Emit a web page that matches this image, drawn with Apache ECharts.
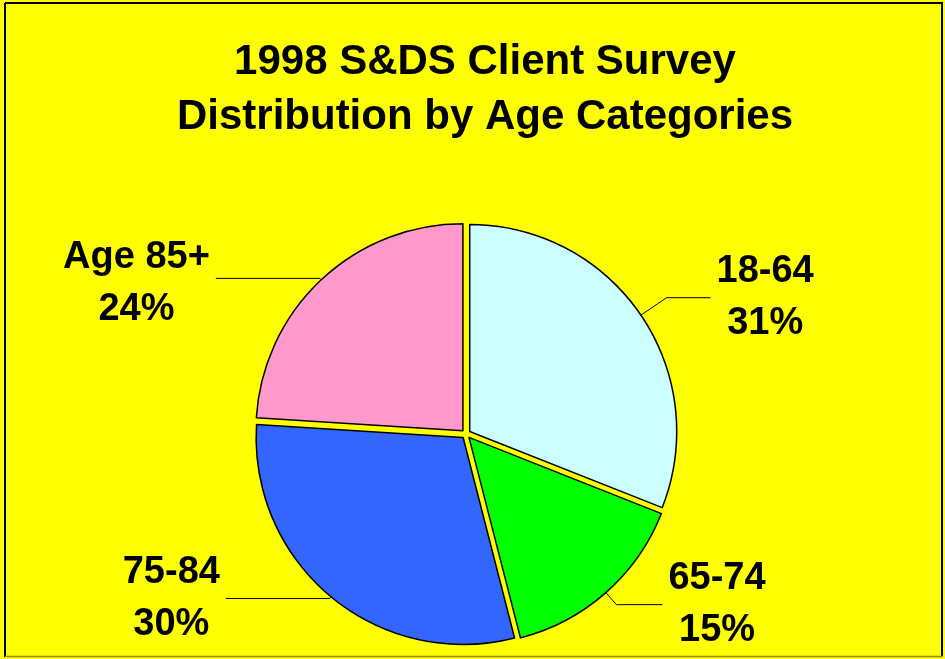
<!DOCTYPE html>
<html>
<head>
<meta charset="utf-8">
<script src="https://cdn.jsdelivr.net/npm/echarts@6/dist/echarts.min.js"></script>
<style>
  html, body { margin: 0; padding: 0; background: #fff; }
  #chart { width: 945px; height: 659px; }
</style>
</head>
<body>
<div id="chart"></div>
<script>
  // age groups and their share of clients (%)
  var categories = ['18-64', '65-74', '75-84', 'Age 85+'];
  var shares = [31, 15, 30, 24];
  var colors = ['#CCFFFF', '#00FF00', '#3366FF', '#FF99CC'];
  // leader line [length, length2] per slice
  var lineLen = [[31, 44], [16, 46], [2, 104], [2, 104]];
  var labelPad = [[0, 0, 0, 0], [0, 0, 0, 0], [0, 0, 0, 0], [10, 0, 0, 0]];

  var FONT = 'Liberation Sans, Arial, sans-serif';
  var cx = 466, cy = 434, r = 207, explode = 4.5;

  var chart = echarts.init(document.getElementById('chart'));

  var total = shares.reduce(function (a, b) { return a + b; }, 0);

  // every slice gets its own series so it can be pulled out a little
  var series = [];
  var cum = 0;
  categories.forEach(function (name, i) {
    var start = cum / total * 360;
    var mid = (cum + shares[i] / 2) / total * 360 * Math.PI / 180;
    cum += shares[i];
    series.push({
      type: 'pie',
      center: [cx + explode * Math.sin(mid), cy - explode * Math.cos(mid)],
      radius: r,
      startAngle: 90 - start,
      clockwise: true,
      avoidLabelOverlap: false,
      itemStyle: { borderColor: '#000', borderWidth: 1.5 },
      label: {
        show: true,
        position: 'outside',
        formatter: '{n|{b}}\n{n|{c}%}',
        distanceToLabelLine: 6,
        padding: labelPad[i],
        rich: {
          n: {
            fontFamily: FONT,
            fontSize: 38,
            fontWeight: 'bold',
            color: '#000',
            lineHeight: 52,
            align: 'center'
          }
        }
      },
      labelLine: {
        show: true,
        smooth: false,
        length: lineLen[i][0],
        length2: lineLen[i][1],
        lineStyle: { color: '#000', width: 1 }
      },
      emphasis: { disabled: true },
      silent: true,
      data: [
        { name: name, value: shares[i], itemStyle: { color: colors[i] } },
        {
          name: '',
          value: total - shares[i],
          itemStyle: { color: 'rgba(0,0,0,0)', borderWidth: 0 },
          label: { show: false },
          labelLine: { show: false }
        }
      ]
    });
  });

  chart.setOption({
    backgroundColor: '#FFFF00',
    animation: false,
    title: {
      text: '1998 S&DS Client Survey\nDistribution by Age Categories',
      left: 480,
      top: 30,
      textAlign: 'center',
      textStyle: {
        fontFamily: FONT,
        fontSize: 42,
        fontWeight: 'bold',
        color: '#000',
        lineHeight: 55
      }
    },
    graphic: [
      { type: 'line', shape: { x1: 5, y1: 3, x2: 943, y2: 3 }, style: { stroke: '#000', lineWidth: 2 }, silent: true },
      { type: 'line', shape: { x1: 5, y1: 3, x2: 5, y2: 657 }, style: { stroke: '#000', lineWidth: 2 }, silent: true },
      { type: 'line', shape: { x1: 942, y1: 3, x2: 942, y2: 657 }, style: { stroke: '#000', lineWidth: 2 }, silent: true },
      { type: 'line', shape: { x1: 5, y1: 656.5, x2: 943, y2: 656.5 }, style: { stroke: '#8a8a2a', lineWidth: 1.5 }, silent: true }
    ],
    series: series
  });
</script>
</body>
</html>
